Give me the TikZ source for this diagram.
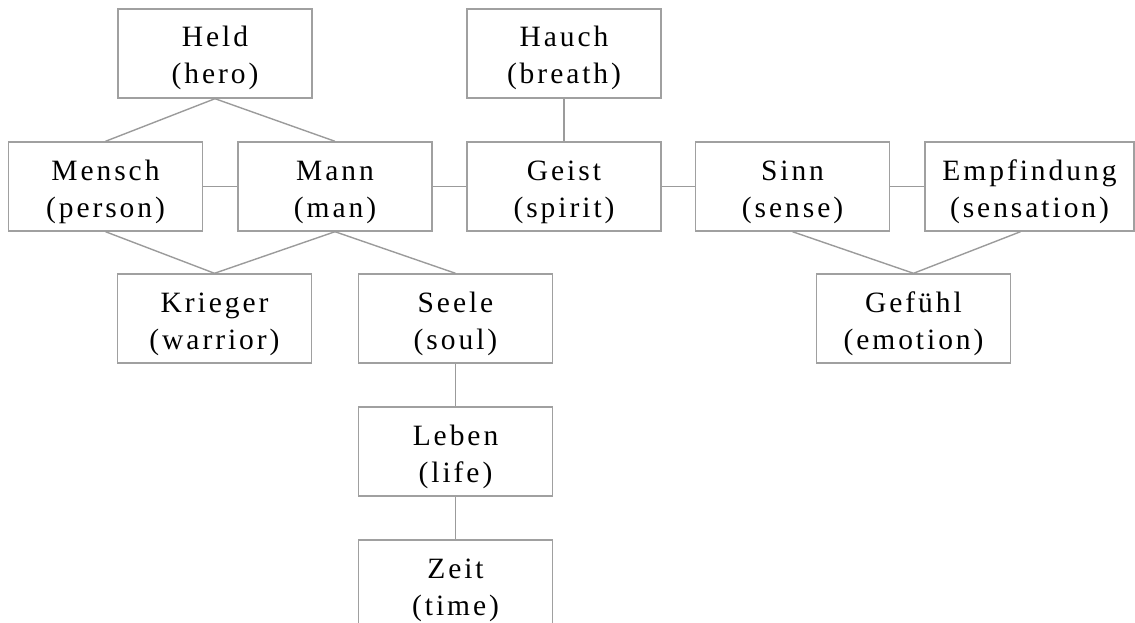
\documentclass[tikz,border=0pt]{standalone}
\usepackage{fontspec}
\setmainfont{Liberation Serif}[LetterSpace=10]
\definecolor{boxgray}{RGB}{160,160,160}
\definecolor{linegray}{RGB}{155,155,155}
\begin{document}
\begin{tikzpicture}[x=1pt,y=-1pt,
  wbox/.style={draw=boxgray, line width=1.4pt, minimum width=194pt, minimum height=89pt,
    inner sep=0pt, align=center, font=\fontsize{29.5}{37}\selectfont, text=black,
    text height=66pt, text depth=5pt},
  link/.style={draw=linegray, line width=1.4pt}]
\clip (0,0) rectangle (1135,623);
\useasboundingbox (0,0) rectangle (1135,623);
\node[wbox] (held) at (215,53.5) {Held\\(hero)};
\node[wbox] (hauch) at (564,53.5) {Hauch\\(breath)};
\node[wbox] (mensch) at (105.5,186.5) {Mensch\\(person)};
\node[wbox] (mann) at (335,186.5) {Mann\\(man)};
\node[wbox] (geist) at (564,186.5) {Geist\\(spirit)};
\node[wbox] (sinn) at (792.5,186.5) {Sinn\\(sense)};
\node[wbox, minimum width=209pt] (empf) at (1029.5,186.5) {Empfindung\\(sensation)};
\node[wbox] (krieger) at (214.5,318.5) {Krieger\\(warrior)};
\node[wbox] (seele) at (455.5,318.5) {Seele\\(soul)};
\node[wbox] (gefuehl) at (913.5,318.5) {Gefühl\\(emotion)};
\node[wbox] (leben) at (455.5,451.5) {Leben\\(life)};
\node[wbox] (zeit) at (455.5,584.5) {Zeit\\(time)};
\draw[link] (held.south) -- (mensch.north);
\draw[link] (held.south) -- (mann.north);
\draw[link] (hauch) -- (geist);
\draw[link] (mensch) -- (mann);
\draw[link] (mann) -- (geist);
\draw[link] (geist) -- (sinn);
\draw[link] (sinn) -- (empf);
\draw[link] (mensch.south) -- (krieger.north);
\draw[link] (mann.south) -- (krieger.north);
\draw[link] (mann.south) -- (seele.north);
\draw[link] (seele) -- (leben);
\draw[link] (leben) -- (zeit);
\draw[link] (sinn.south) -- (gefuehl.north);
\draw[link] ([xshift=-9pt]empf.south) -- (gefuehl.north);
\end{tikzpicture}
\end{document}
